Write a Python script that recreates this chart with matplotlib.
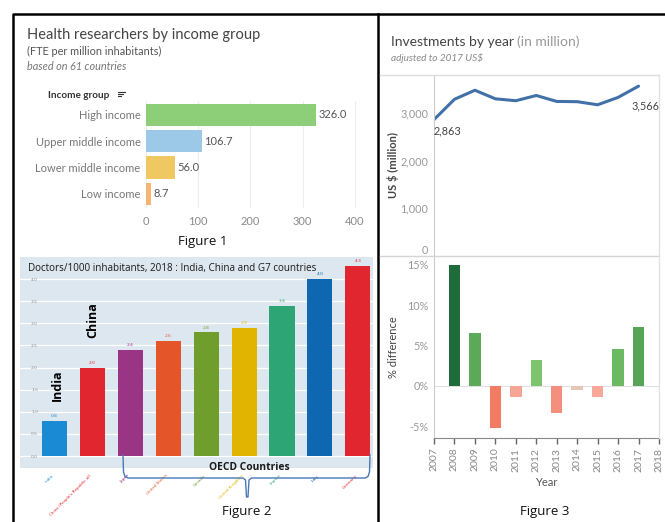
import matplotlib
matplotlib.use("Agg")
import matplotlib.pyplot as plt
from matplotlib.lines import Line2D
from matplotlib.ticker import FuncFormatter
from matplotlib.transforms import blended_transform_factory

# ---------------- data ----------------
income_groups = ["High income", "Upper middle income", "Lower middle income", "Low income"]
researchers = [326.0, 106.7, 56.0, 8.7]
income_colors = ["#8ccf78", "#9dc9e8", "#f0c862", "#f8b473"]

countries = ["India", "China (People's Republic of)", "Japan", "United States", "Canada",
             "United Kingdom", "France", "Italy", "Germany"]
doctors = [0.8, 2.0, 2.4, 2.6, 2.8, 2.9, 3.4, 4.0, 4.3]
country_colors = ["#1a8ad4", "#e2262f", "#9a3585", "#e4562a", "#6f9e2c",
                  "#e0b400", "#2ea574", "#0e67b0", "#e2262f"]

years = [2007, 2008, 2009, 2010, 2011, 2012, 2013, 2014, 2015, 2016, 2017]
investments = [2863, 3290, 3480, 3300, 3260, 3370, 3245, 3240, 3175, 3330, 3566]

diff_years = [2008, 2009, 2010, 2011, 2012, 2013, 2014, 2015, 2016, 2017]
pct_diff = [15.0, 6.6, -5.2, -1.4, 3.2, -3.4, -0.5, -1.4, 4.6, 7.3]
diff_colors = ["#1f6b3b", "#5ca95a", "#f27c63", "#f6a595", "#7cc46d",
               "#f38f7c", "#e6c7b6", "#f7a898", "#6cb963", "#58a457"]

# ---------------- layout helpers ----------------
W, H = 665, 522
fig = plt.figure(figsize=(W / 100, H / 100), dpi=100)
fig.patch.set_facecolor("white")

def fx(x):
    return x / W

def fy(y):
    return 1 - y / H

def axpx(x0, y0, x1, y1):
    return fig.add_axes([x0 / W, 1 - y1 / H, (x1 - x0) / W, (y1 - y0) / H])

def fline(xs, ys, **kw):
    fig.add_artist(Line2D([fx(x) for x in xs], [fy(y) for y in ys],
                          transform=fig.transFigure, **kw))

TAB = ["Lato", "DejaVu Sans"]
CAL = ["Open Sans", "DejaVu Sans"]

# ---------------- outer frame ----------------
fline([13, 13, 665], [522, 14, 14], color="black", lw=1.8)
fline([378, 378], [14, 522], color="black", lw=1.8)

# ---------------- Figure 1 ----------------
fig.text(fx(27), fy(35), "Health researchers by income group", fontsize=10.5,
         color="#444444", family=TAB, va="center")
fig.text(fx(27), fy(51), "(FTE per million inhabitants)", fontsize=7.8,
         color="#555555", family=TAB, va="center")
fig.text(fx(27), fy(67), "based on 61 countries", fontsize=7.8, style="italic",
         color="#777777", family=TAB, va="center")
fig.text(fx(48), fy(95), "Income group", fontsize=7.2, color="#333333",
         family=TAB, va="center", weight="bold")
for i, ln in enumerate([7, 5, 3]):
    fline([118, 118 + ln], [91.5 + i * 2.3, 91.5 + i * 2.3], color="#333333", lw=0.8)

ax1 = axpx(146, 101, 362, 208)
ax1.barh(range(len(income_groups)), researchers, height=0.84, color=income_colors)
ax1.set_xlim(0, 414)
ax1.set_ylim(3.54, -0.53)
ax1.set_yticks(range(len(income_groups)))
ax1.set_yticklabels(income_groups, fontsize=8, color="#777777", family=TAB)
ax1.set_xticks([0, 100, 200, 300, 400])
ax1.tick_params(axis="x", labelsize=8, labelcolor="#8a8a8a", length=0, pad=6)
ax1.tick_params(axis="y", length=0, pad=4)
for t in ax1.get_xticklabels():
    t.set_family(TAB)
for s in ax1.spines.values():
    s.set_visible(False)
ax1.grid(axis="x", color="#eeeeee", lw=0.8)
ax1.set_axisbelow(True)
for i, v in enumerate(researchers):
    ax1.text(v + 5, i, f"{v:.1f}", va="center", ha="left", fontsize=8,
             color="#555555", family=TAB)
fig.text(fx(203), fy(242), "Figure 1", fontsize=9.5, ha="center", va="center",
         family=CAL, color="#111111")

# ---------------- Figure 2 ----------------
ax2 = axpx(20, 257, 373, 468)
ax2.set_facecolor("#dde7f0")
xs = list(range(len(countries)))
ax2.bar(xs, doctors, width=0.66, color=country_colors, zorder=3)
ax2.set_xlim(-0.91, 8.4)
ax2.set_ylim(-0.27, 4.5)
ax2.set_yticks([0.0, 0.5, 1.0, 1.5, 2.0, 2.5, 3.0, 3.5, 4.0])
ax2.yaxis.set_major_formatter(FuncFormatter(lambda v, p: f"{v:.1f}"))
ax2.tick_params(axis="y", labelsize=3.2, labelcolor="#8a8a8a", length=0, pad=-8)
for t in ax2.get_yticklabels():
    t.set_horizontalalignment("left")
ax2.grid(axis="y", color="white", lw=0.9, zorder=1)
ax2.set_xticks(xs)
ax2.set_xticklabels(countries, rotation=45, ha="right", fontsize=3.0)
for t, c in zip(ax2.get_xticklabels(), country_colors):
    t.set_color(c)
ax2.tick_params(axis="x", length=0, pad=4)
for s in ax2.spines.values():
    s.set_visible(False)
for x, v, c in zip(xs, doctors, country_colors):
    ax2.text(x, v + 0.06, f"{v:.1f}", ha="center", va="bottom", fontsize=3.2,
             color=c, zorder=4)
fig.text(fx(28), fy(268), "Doctors/1000 inhabitants, 2018 : India, China and G7 countries",
         fontsize=7.1, color="#1a1a1a", family=CAL, va="center")
fig.text(fx(57), fy(385), "India", rotation=90, fontsize=9, weight="bold",
         ha="center", va="center", family=CAL)
fig.text(fx(93), fy(320), "China", rotation=90, fontsize=9, weight="bold",
         ha="center", va="center", family=CAL)
fig.text(fx(249), fy(467), "OECD Countries", fontsize=7.4, weight="bold",
         ha="center", va="center", family=CAL, color="#1a1a1a")
# brace
bc = "#4a78b5"
fline([123, 123.5, 125, 128, 243, 245.5, 246.5, 248, 249, 251.5, 365, 368, 369.5, 370],
      [455, 472, 476.5, 478, 478, 480, 497, 497, 480, 478, 478, 476.5, 472, 455],
      color=bc, lw=1.0)
fig.text(fx(247), fy(512), "Figure 2", fontsize=9.5, ha="center", va="center",
         family=CAL, color="#111111")

# ---------------- Figure 3 ----------------
t1 = fig.text(fx(391), fy(42), "Investments by year", fontsize=10, color="#444444",
              family=TAB, va="center")
fig.canvas.draw()
bb = t1.get_window_extent()
fig.text(bb.x1 / W + 0.004, fy(42), "(in million)", fontsize=10, color="#999999",
         family=TAB, va="center")
fig.text(fx(391), fy(58), "adjusted to 2017 US$", fontsize=7.2, style="italic",
         color="#888888", family=TAB, va="center")

XR = 659  # pixel x of 2018
# pane borders
fline([380, XR], [75, 75], color="#dddddd", lw=1)
fline([380, XR], [256, 256], color="#d5d5d5", lw=1)
fline([XR, XR], [75, 438], color="#e2e2e2", lw=1)

ax3 = axpx(434, 75, XR, 256)
ax3.plot(years, investments, color="#4271a8", lw=2.2, solid_capstyle="round")
ax3.set_xlim(2007, 2018)
ax3.set_ylim(0, 3800)
ax3.set_yticks([0, 1000, 2000, 3000])
ax3.yaxis.set_major_formatter(FuncFormatter(lambda v, p: f"{int(v):,}"))
ax3.tick_params(axis="y", labelsize=7.8, labelcolor="#999999", length=0, pad=4)
ax3.set_xticks([])
ylabels3 = ax3.get_yticklabels()
for t in ylabels3:
    t.set_family(TAB)
ylabels3[0].set_verticalalignment("bottom")
for k, s in ax3.spines.items():
    s.set_visible(k == "left")
ax3.spines["left"].set_color("#cccccc")
ax3.set_facecolor("none")
ax3.text(years[0], investments[0] - 230, f"{investments[0]:,}", fontsize=7.8,
         color="#444444", ha="left", va="center", family=TAB)
ax3.text(years[-1] + 1, investments[-1] - 420, f"{investments[-1]:,}", fontsize=7.8,
         color="#444444", ha="right", va="center", family=TAB)
ax3.set_ylabel("US $ (million)", fontsize=8, color="#444444", family=TAB, weight="bold")

ax4 = axpx(434, 256, XR, 438)
ax4.bar(diff_years, pct_diff, width=0.56, color=diff_colors, zorder=3)
ax4.set_xlim(2007, 2018)
ax4.set_ylim(-6.44, 16.1)
ax4.axhline(0, color="#e0e0e0", lw=0.8, zorder=1)
ax4.set_yticks([-5, 0, 5, 10, 15])
ax4.yaxis.set_major_formatter(FuncFormatter(lambda v, p: f"{int(v)}%"))
ax4.tick_params(axis="y", labelsize=7.8, labelcolor="#999999", length=0, pad=4)
all_years = list(range(2007, 2019))
ax4.set_xticks(all_years)
ax4.set_xticklabels([str(y) for y in all_years], rotation=90, fontsize=7.5,
                    color="#888888")
ax4.tick_params(axis="x", length=4, width=1, color="#666666", pad=3)
for t in ax4.get_yticklabels() + ax4.get_xticklabels():
    t.set_family(TAB)
for k, s in ax4.spines.items():
    s.set_visible(k in ("left", "bottom"))
ax4.spines["left"].set_color("#cccccc")
ax4.spines["bottom"].set_color("#888888")
ax4.set_facecolor("none")
ax4.set_ylabel("% difference", fontsize=8, color="#444444", family=TAB)
ax4.set_xlabel("Year", fontsize=8, color="#555555", family=TAB, labelpad=4)

# align y labels
for a in (ax3, ax4):
    a.yaxis.set_label_coords(fx(399), 0.5,
                             transform=blended_transform_factory(fig.transFigure, a.transAxes))

fig.text(fx(545), fy(512), "Figure 3", fontsize=9.5, ha="center", va="center",
         family=CAL, color="#111111")

fig.savefig("out.png", dpi=100)
